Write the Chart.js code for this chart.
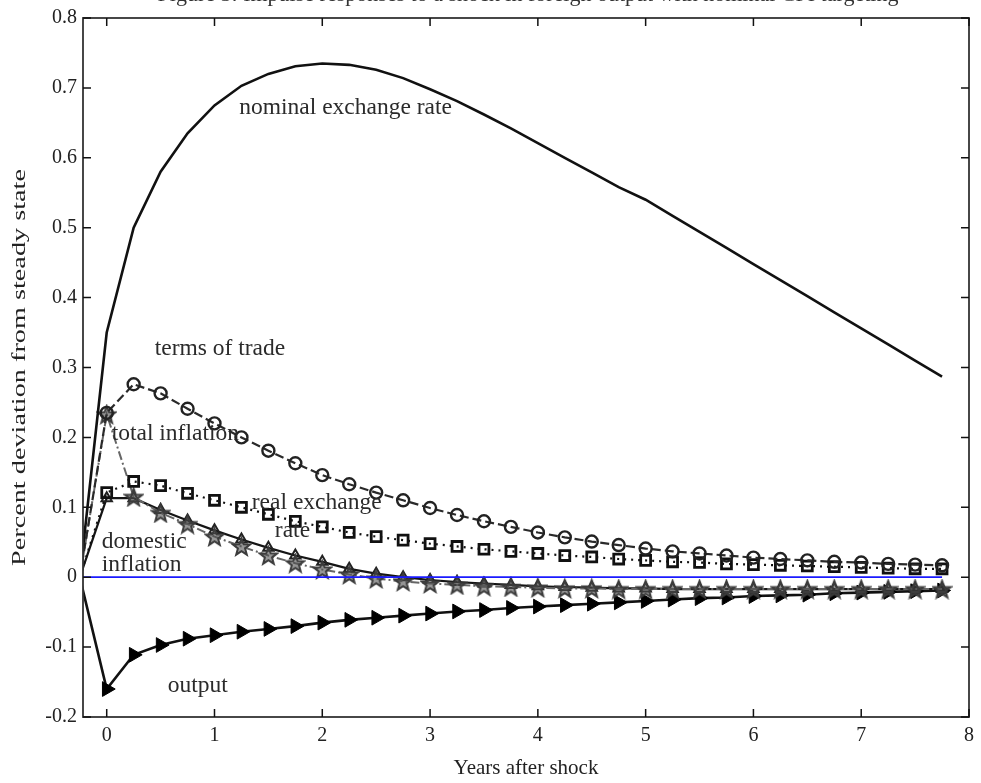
<!DOCTYPE html>
<html>
<head>
<meta charset="utf-8">
<script src="https://cdn.jsdelivr.net/npm/chart.js@4.4.1/dist/chart.umd.min.js"></script>
<style>
  html, body { margin: 0; padding: 0; background: #fff; }
  #wrap { width: 981px; height: 783px; }
</style>
</head>
<body>
<div id="wrap"><canvas id="irf" width="981" height="783"></canvas></div>
<script>
// quarters after the shock (first point = steady state one quarter before)
var years = [-0.25, 0, 0.25, 0.5, 0.75, 1, 1.25, 1.5, 1.75, 2, 2.25, 2.5, 2.75, 3, 3.25, 3.5, 3.75,
  4, 4.25, 4.5, 4.75, 5, 5.25, 5.5, 5.75, 6, 6.25, 6.5, 6.75, 7, 7.25, 7.5, 7.75];

var nominalExchangeRate = [0, 0.35, 0.50, 0.58, 0.635, 0.675, 0.703, 0.720, 0.731, 0.735, 0.733, 0.726, 0.714,
  0.698, 0.681, 0.662, 0.642, 0.621, 0.600, 0.579, 0.558, 0.540, 0.517, 0.494, 0.471, 0.448, 0.425,
  0.402, 0.379, 0.356, 0.333, 0.310, 0.287];
var termsOfTrade = [0, 0.235, 0.276, 0.263, 0.241, 0.220, 0.200, 0.181, 0.163, 0.146, 0.133, 0.121, 0.110,
  0.099, 0.089, 0.080, 0.072, 0.064, 0.057, 0.051, 0.046, 0.041, 0.037, 0.034, 0.031, 0.028, 0.026,
  0.024, 0.022, 0.021, 0.019, 0.018, 0.017];
var realExchangeRate = [0, 0.121, 0.137, 0.131, 0.120, 0.110, 0.100, 0.090, 0.080, 0.072, 0.064, 0.058, 0.053,
  0.048, 0.044, 0.040, 0.037, 0.034, 0.031, 0.029, 0.026, 0.024, 0.022, 0.021, 0.019, 0.018, 0.017,
  0.016, 0.015, 0.014, 0.013, 0.012, 0.012];
var totalInflation = [0, 0.233, 0.115, 0.092, 0.076, 0.058, 0.044, 0.031, 0.020, 0.011, 0.004, -0.002, -0.006,
  -0.009, -0.011, -0.013, -0.014, -0.015, -0.016, -0.016, -0.017, -0.017, -0.017, -0.017, -0.017, -0.017, -0.017,
  -0.017, -0.017, -0.017, -0.017, -0.017, -0.017];
var domesticInflation = [0, 0.113, 0.113, 0.096, 0.081, 0.067, 0.054, 0.042, 0.031, 0.022, 0.012, 0.005, 0.000,
  -0.004, -0.007, -0.009, -0.011, -0.013, -0.014, -0.015, -0.016, -0.016, -0.017, -0.017, -0.017, -0.017, -0.017,
  -0.017, -0.017, -0.017, -0.017, -0.017, -0.017];
var output = [0, -0.160, -0.111, -0.097, -0.088, -0.083, -0.078, -0.074, -0.070, -0.065, -0.061, -0.058, -0.055,
  -0.052, -0.049, -0.047, -0.044, -0.042, -0.040, -0.038, -0.036, -0.034, -0.032, -0.030, -0.029, -0.027, -0.026,
  -0.025, -0.023, -0.022, -0.021, -0.020, -0.019];
var steadyState = [0, 0, 0, 0, 0, 0, 0, 0, 0, 0, 0, 0, 0, 0, 0, 0, 0,
  0, 0, 0, 0, 0, 0, 0, 0, 0, 0, 0, 0, 0, 0, 0, 0];

var xTicks = [0, 1, 2, 3, 4, 5, 6, 7, 8];
var yTicks = [-0.2, -0.1, 0, 0.1, 0.2, 0.3, 0.4, 0.5, 0.6, 0.7, 0.8];

var titleText = 'Figure 5: Impulse responses to a shock in foreign output with nominal CPI targeting';
var yTitle = 'Percent deviation from steady state';

// curve labels placed in data coordinates
var curveLabels = [
  { text: 'nominal exchange rate', x: 1.23, y: 0.671 },
  { text: 'terms of trade', x: 0.445, y: 0.327 },
  { text: 'total inflation', x: 0.046, y: 0.205 },
  { text: 'real exchange', x: 1.346, y: 0.107 },
  { text: 'rate', x: 1.56, y: 0.067 },
  { text: 'domestic', x: -0.046, y: 0.051 },
  { text: 'inflation', x: -0.046, y: 0.018 },
  { text: 'output', x: 0.566, y: -0.155 }
];

var SERIF = '"Liberation Serif", "Times New Roman", serif';

function pts(values) {
  return values.map(function (v, i) { return { x: years[i], y: v }; });
}

// pentagram marker like matlab's 'p'
function makeStar(size, color) {
  var c = document.createElement('canvas');
  c.width = size; c.height = size;
  var g = c.getContext('2d');
  var cx = size / 2, cy = size / 2 + 0.8, R = size / 2 - 1.5, r = R * 0.42;
  g.beginPath();
  for (var k = 0; k < 10; k++) {
    var a = -Math.PI / 2 + k * Math.PI / 5;
    var rr = k % 2 === 0 ? R : r;
    var px = cx + rr * Math.cos(a), py = cy + rr * Math.sin(a);
    if (k === 0) g.moveTo(px, py); else g.lineTo(px, py);
  }
  g.closePath();
  g.fillStyle = 'rgba(80,80,80,0.6)';
  g.fill();
  g.lineWidth = 2;
  g.strokeStyle = color;
  g.stroke();
  return c;
}
var starImg = makeStar(21, '#3c3c3c');

function noFirst(r) {
  return function (ctx) { return ctx.dataIndex === 0 ? 0 : r; };
}

var framePlugin = {
  id: 'frame',
  afterDatasetsDraw: function (chart) {
    var ctx = chart.ctx, a = chart.chartArea;
    var xs = chart.scales.x, ys = chart.scales.y;
    ctx.save();
    // curve labels
    ctx.font = '23.5px ' + SERIF;
    ctx.fillStyle = '#2b2b2b';
    ctx.textAlign = 'left';
    ctx.textBaseline = 'middle';
    curveLabels.forEach(function (l) {
      ctx.fillText(l.text, xs.getPixelForValue(l.x), ys.getPixelForValue(l.y));
    });
    // box + inward ticks
    ctx.strokeStyle = '#333';
    ctx.lineWidth = 1.8;
    ctx.strokeRect(a.left, a.top, a.right - a.left, a.bottom - a.top);
    ctx.lineWidth = 1.5;
    ctx.strokeStyle = '#111';
    ctx.beginPath();
    xTicks.forEach(function (v) {
      var px = xs.getPixelForValue(v);
      ctx.moveTo(px, a.bottom); ctx.lineTo(px, a.bottom - 8);
      ctx.moveTo(px, a.top); ctx.lineTo(px, a.top + 8);
    });
    yTicks.forEach(function (v) {
      var py = ys.getPixelForValue(v);
      ctx.moveTo(a.left, py); ctx.lineTo(a.left + 8, py);
      ctx.moveTo(a.right, py); ctx.lineTo(a.right - 8, py);
    });
    ctx.stroke();
    // y axis title, stretched along its length like the scanned figure
    ctx.font = '18px ' + SERIF;
    ctx.fillStyle = '#222';
    ctx.textAlign = 'center';
    ctx.textBaseline = 'middle';
    var sx = 397 / ctx.measureText(yTitle).width;
    ctx.save();
    ctx.translate(20, (a.top + a.bottom) / 2);
    ctx.rotate(-Math.PI / 2);
    ctx.scale(sx, 1);
    ctx.fillText(yTitle, 0, 0);
    ctx.restore();
    // title, cut off at the top edge as in the scan
    ctx.font = '22px ' + SERIF;
    ctx.fillStyle = '#333';
    ctx.textAlign = 'center';
    ctx.textBaseline = 'alphabetic';
    ctx.fillText(titleText, 528, 1);
    ctx.restore();
  }
};

new Chart(document.getElementById('irf').getContext('2d'), {
  type: 'line',
  data: {
    datasets: [
      {
        label: 'steady state',
        data: pts(steadyState),
        borderColor: '#1a1aff',
        borderWidth: 1.8,
        pointRadius: 0
      },
      {
        label: 'nominal exchange rate',
        data: pts(nominalExchangeRate),
        borderColor: '#111',
        borderWidth: 2.6,
        pointRadius: 0
      },
      {
        label: 'terms of trade',
        data: pts(termsOfTrade),
        borderColor: '#2a2a2a',
        borderWidth: 2.2,
        borderDash: [9, 4],
        pointStyle: 'circle',
        pointRadius: noFirst(6),
        pointBorderWidth: 2.4,
        pointBorderColor: '#222',
        pointBackgroundColor: 'rgba(0,0,0,0)'
      },
      {
        label: 'real exchange rate',
        data: pts(realExchangeRate),
        borderColor: '#111',
        borderWidth: 2.2,
        borderDash: [2, 5],
        pointStyle: 'rect',
        pointRadius: noFirst(7),
        pointBorderWidth: 2.8,
        pointBorderColor: '#111',
        pointBackgroundColor: 'rgba(0,0,0,0)'
      },
      {
        label: 'total inflation',
        data: pts(totalInflation),
        borderColor: '#666',
        borderWidth: 2,
        borderDash: [9, 3, 2, 3],
        pointStyle: starImg,
        pointRadius: noFirst(10)
      },
      {
        label: 'domestic inflation',
        data: pts(domesticInflation),
        borderColor: '#151515',
        borderWidth: 2.2,
        pointStyle: 'triangle',
        pointRadius: noFirst(6),
        pointBorderWidth: 2,
        pointBorderColor: '#222',
        pointBackgroundColor: 'rgba(0,0,0,0)'
      },
      {
        label: 'output',
        data: pts(output),
        borderColor: '#111',
        borderWidth: 2.6,
        pointStyle: 'triangle',
        pointRotation: 90,
        pointRadius: noFirst(8.5),
        pointBorderWidth: 1,
        pointBorderColor: '#000',
        pointBackgroundColor: '#000'
      }
    ]
  },
  options: {
    responsive: false,
    animation: false,
    devicePixelRatio: 1,
    layout: { padding: { left: 0, top: 15, right: 12, bottom: 0 } },
    elements: { line: { tension: 0, fill: false } },
    plugins: {
      legend: { display: false },
      tooltip: { enabled: false }
    },
    scales: {
      x: {
        type: 'linear',
        min: -0.22,
        max: 8,
        afterBuildTicks: function (scale) {
          scale.ticks = xTicks.map(function (v) { return { value: v }; });
        },
        afterFit: function (scale) { scale.height = 66; },
        grid: { display: false, drawTicks: false },
        border: { display: false },
        ticks: {
          padding: 7,
          color: '#222',
          font: { family: SERIF, size: 20 },
          callback: function (v) { return String(v); }
        },
        title: {
          display: true,
          text: 'Years after shock',
          color: '#222',
          font: { family: SERIF, size: 21 },
          padding: { top: 0, bottom: 2 }
        }
      },
      y: {
        min: -0.2,
        max: 0.8,
        afterBuildTicks: function (scale) {
          scale.ticks = yTicks.map(function (v) { return { value: v }; });
        },
        afterFit: function (scale) { scale.width = 83; },
        grid: { display: false, drawTicks: false },
        border: { display: false },
        ticks: {
          padding: 6,
          color: '#222',
          font: { family: SERIF, size: 20 },
          callback: function (v) { return Math.abs(v) < 1e-9 ? '0' : v.toFixed(1); }
        },
        title: { display: false }
      }
    }
  },
  plugins: [framePlugin]
});
</script>
</body>
</html>
